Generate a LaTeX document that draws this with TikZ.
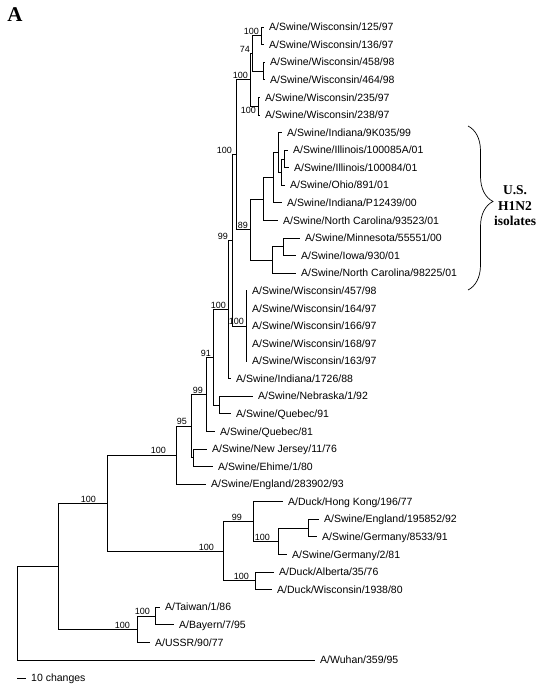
\documentclass[tikz,border=0pt]{standalone}
\usepackage{fontspec}
\setmainfont{Liberation Sans}
\newfontfamily\serifbf{Liberation Serif}
\usetikzlibrary{decorations.pathreplacing}

\begin{document}
\begin{tikzpicture}[x=1pt,y=-1pt,
		br/.style={line width=0.8pt},
		taxon/.style={anchor=west,inner xsep=5pt,inner ysep=0pt,text height=7.5pt,text depth=0pt,font=\fontsize{10.5}{12}\selectfont},
		bs/.style={anchor=south east,inner sep=0.8pt,xshift=-1pt,font=\fontsize{9}{10}\selectfont}]
		\useasboundingbox (0,0) rectangle (543,685);
		
		\node[font=\serifbf\bfseries\fontsize{21}{21}\selectfont] (panel) at (15,15) {A};
		
		\node[taxon] (t1) at (264,27.0) {A/Swine/Wisconsin/125/97};
		\node[taxon] (t2) at (264,44.6) {A/Swine/Wisconsin/136/97};
		\node[taxon] (t3) at (265,62.2) {A/Swine/Wisconsin/458/98};
		\node[taxon] (t4) at (265,79.7) {A/Swine/Wisconsin/464/98};
		\node[taxon] (t5) at (260,97.3) {A/Swine/Wisconsin/235/97};
		\node[taxon] (t6) at (260,114.9) {A/Swine/Wisconsin/238/97};
		\node[taxon] (t7) at (282,132.5) {A/Swine/Indiana/9K035/99};
		\node[taxon] (t8) at (288,150.1) {A/Swine/Illinois/100085A/01};
		\node[taxon] (t9) at (289,167.6) {A/Swine/Illinois/100084/01};
		\node[taxon] (t10) at (285,185.2) {A/Swine/Ohio/891/01};
		\node[taxon] (t11) at (282,202.8) {A/Swine/Indiana/P12439/00};
		\node[taxon] (t12) at (278,220.4) {A/Swine/North Carolina/93523/01};
		\node[taxon] (t13) at (300,238.0) {A/Swine/Minnesota/55551/00};
		\node[taxon] (t14) at (296,255.5) {A/Swine/Iowa/930/01};
		\node[taxon] (t15) at (296,273.1) {A/Swine/North Carolina/98225/01};
		\node[taxon] (t16) at (247,290.7) {A/Swine/Wisconsin/457/98};
		\node[taxon] (t17) at (247,308.3) {A/Swine/Wisconsin/164/97};
		\node[taxon] (t18) at (247,325.9) {A/Swine/Wisconsin/166/97};
		\node[taxon] (t19) at (247,343.4) {A/Swine/Wisconsin/168/97};
		\node[taxon] (t20) at (247,361.0) {A/Swine/Wisconsin/163/97};
		\node[taxon] (t21) at (231,378.6) {A/Swine/Indiana/1726/88};
		\node[taxon] (t22) at (253,396.2) {A/Swine/Nebraska/1/92};
		\node[taxon] (t23) at (231,413.8) {A/Swine/Quebec/91};
		\node[taxon] (t24) at (215,431.3) {A/Swine/Quebec/81};
		\node[taxon] (t25) at (207,448.9) {A/Swine/New Jersey/11/76};
		\node[taxon] (t26) at (213,466.5) {A/Swine/Ehime/1/80};
		\node[taxon] (t27) at (206,484.1) {A/Swine/England/283902/93};
		\node[taxon] (t28) at (283,501.7) {A/Duck/Hong Kong/196/77};
		\node[taxon] (t29) at (319,519.2) {A/Swine/England/195852/92};
		\node[taxon] (t30) at (317,536.8) {A/Swine/Germany/8533/91};
		\node[taxon] (t31) at (287,554.4) {A/Swine/Germany/2/81};
		\node[taxon] (t32) at (274,572.0) {A/Duck/Alberta/35/76};
		\node[taxon] (t33) at (272,589.6) {A/Duck/Wisconsin/1938/80};
		\node[taxon] (t34) at (160,607.1) {A/Taiwan/1/86};
		\node[taxon] (t35) at (174,624.7) {A/Bayern/7/95};
		\node[taxon] (t36) at (150,642.3) {A/USSR/90/77};
		\node[taxon] (t37) at (315,659.9) {A/Wuhan/359/95};
		
		\coordinate (root) at (17,613.0);
		\coordinate (n58) at (58,566.1);
		\coordinate (n100e) at (107,503.1);
		\coordinate (n100c) at (176,455.0);
		\coordinate (n95) at (191,426.0);
		\coordinate (nnj) at (193,457.7);
		\coordinate (n99b) at (206,394.3);
		\coordinate (n91) at (213,357.2);
		\coordinate (nneb) at (219,405.0);
		\coordinate (n100b) at (228,309.4);
		\coordinate (n99a) at (232,240.2);
		\coordinate (nw457) at (246,325.9);
		\coordinate (nus) at (236,154.6);
		\coordinate (n5) at (250,79.7);
		\coordinate (n3) at (252,53.4);
		\coordinate (n1) at (261,35.8);
		\coordinate (n2) at (263,71.0);
		\coordinate (n4) at (258,106.1);
		\coordinate (n89) at (250,229.5);
		\coordinate (nG) at (263,199.0);
		\coordinate (nC) at (273,177.5);
		\coordinate (nD) at (278,152.3);
		\coordinate (nE) at (281,172.0);
		\coordinate (nF) at (284,158.9);
		\coordinate (nB) at (272,259.9);
		\coordinate (nMI) at (283,246.8);
		\coordinate (nav) at (223,551.1);
		\coordinate (nhk) at (253,521.4);
		\coordinate (n100d) at (278,541.2);
		\coordinate (neng) at (308,528.0);
		\coordinate (nduck) at (255,580.8);
		\coordinate (nhu) at (137,629.1);
		\coordinate (ntb) at (155,615.9);
		
		\draw[br] (root) |- (n58) (root) |- (t37.west);
		\draw[br] (n58) |- (n100e) (n58) |- (nhu);
		\draw[br] (n100e) |- (n100c) (n100e) |- (nav);
		\draw[br] (n100c) |- (n95) (n100c) |- (t27.west);
		\draw[br] (n95) |- (n99b) (n95) |- (nnj);
		\draw[br] (nnj) |- (t25.west) (nnj) |- (t26.west);
		\draw[br] (n99b) |- (n91) (n99b) |- (t24.west);
		\draw[br] (n91) |- (n100b) (n91) |- (nneb);
		\draw[br] (nneb) |- (t22.west) (nneb) |- (t23.west);
		\draw[br] (n100b) |- (n99a) (n100b) |- (t21.west);
		\draw[br] (n99a) |- (nus) (n99a) |- (nw457);
		\draw[br] (nw457) |- (t16.west) (nw457) |- (t17.west) (nw457) |- (t18.west) (nw457) |- (t19.west) (nw457) |- (t20.west);
		\draw[br] (nus) |- (n5) (nus) |- (n89);
		\draw[br] (n5) |- (n3) (n5) |- (n4);
		\draw[br] (n3) |- (n1) (n3) |- (n2);
		\draw[br] (n1) |- (t1.west) (n1) |- (t2.west);
		\draw[br] (n2) |- (t3.west) (n2) |- (t4.west);
		\draw[br] (n4) |- (t5.west) (n4) |- (t6.west);
		\draw[br] (n89) |- (nG) (n89) |- (nB);
		\draw[br] (nG) |- (nC) (nG) |- (t12.west);
		\draw[br] (nC) |- (nD) (nC) |- (t11.west);
		\draw[br] (nD) |- (t7.west) (nD) |- (nE);
		\draw[br] (nE) |- (nF) (nE) |- (t10.west);
		\draw[br] (nF) |- (t8.west) (nF) |- (t9.west);
		\draw[br] (nB) |- (nMI) (nB) |- (t15.west);
		\draw[br] (nMI) |- (t13.west) (nMI) |- (t14.west);
		\draw[br] (nav) |- (nhk) (nav) |- (nduck);
		\draw[br] (nhk) |- (t28.west) (nhk) |- (n100d);
		\draw[br] (n100d) |- (neng) (n100d) |- (t31.west);
		\draw[br] (neng) |- (t29.west) (neng) |- (t30.west);
		\draw[br] (nduck) |- (t32.west) (nduck) |- (t33.west);
		\draw[br] (nhu) |- (ntb) (nhu) |- (t36.west);
		\draw[br] (ntb) |- (t34.west) (ntb) |- (t35.west);
		
		\node[bs] (b1) at (n1) {100};
		\node[bs] (b3) at (n3) {74};
		\node[bs] (b5) at (n5) {100};
		\node[bs,anchor=north east] (b4) at (n4) {100};
		\node[bs] (b89) at (n89) {89};
		\node[bs,xshift=-2pt] (bus) at (nus) {100};
		\node[bs,xshift=-2pt] (b99a) at (n99a) {99};
		\node[bs] (bw457) at (nw457) {100};
		\node[bs] (b100b) at (n100b) {100};
		\node[bs] (b91) at (n91) {91};
		\node[bs,xshift=-1pt] (b99b) at (n99b) {99};
		\node[bs,xshift=-2pt] (b95) at (n95) {95};
		\node[bs,xshift=-8pt] (b100c) at (n100c) {100};
		\node[bs,xshift=-9pt] (b100e) at (n100e) {100};
		\node[bs,xshift=-7pt] (bav) at (nav) {100};
		\node[bs,xshift=-9pt] (bhk) at (nhk) {99};
		\node[bs,xshift=-6pt] (b100d) at (n100d) {100};
		\node[bs,xshift=-4pt] (bduck) at (nduck) {100};
		\node[bs,xshift=-3pt] (btb) at (ntb) {100};
		\node[bs,xshift=-5pt] (bhu) at (nhu) {100};
		
		\coordinate (brtop) at (468,126);
		\coordinate (brbot) at (468,290);
		\draw[line width=0.7pt,decorate,decoration={brace,amplitude=25pt,aspect=0.46}] (brtop) -- (brbot);
		\node[font=\serifbf\bfseries\fontsize{13.5}{15.5}\selectfont,align=center] (h1n2) at (515,206) {U.S.\\H1N2\\isolates};
		
		\coordinate (sb) at (17,678);
		\node[taxon] (sbt) at (26,678) {10 changes};
		\draw[br] (sb) -- (sbt.west);
	\end{tikzpicture}
\end{document}
